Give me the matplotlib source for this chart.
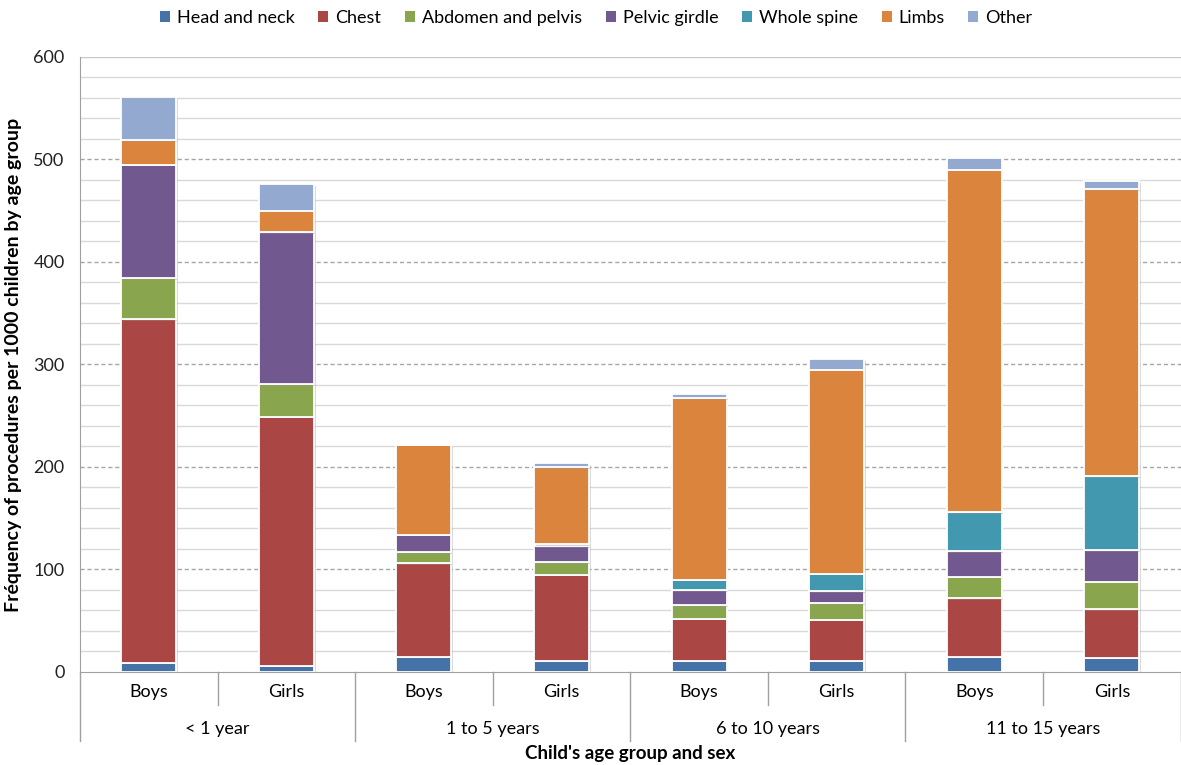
import numpy as np
import matplotlib
matplotlib.use('Agg')
import matplotlib.pyplot as plt
import matplotlib.patheffects as pe
from matplotlib.patches import Patch

plt.rcParams['font.family'] = ['Lato', 'DejaVu Sans']

# procedures per 1000 children, by region and by age group / sex
sexes = ['Boys', 'Girls'] * 4
age_groups = ['< 1 year', '1 to 5 years', '6 to 10 years', '11 to 15 years']
regions = ['Head and neck', 'Chest', 'Abdomen and pelvis', 'Pelvic girdle',
           'Whole spine', 'Limbs', 'Other']
colors = ['#4572A7', '#AA4643', '#89A54E', '#71588F', '#4198AF', '#DB843D', '#93A9CF']

head_neck = [9, 6, 15, 11, 11, 11, 15, 14]
chest = [335, 243, 91, 84, 41, 40, 57, 47]
abdomen_pelvis = [40, 32, 11, 12, 13, 16, 21, 27]
pelvic_girdle = [111, 148, 17, 16, 15, 12, 25, 31]
whole_spine = [0, 0, 0, 2, 10, 17, 38, 72]
limbs = [24, 21, 87, 75, 177, 199, 334, 280]
other = [42, 26, 0, 4, 4, 10, 11, 8]

series = [head_neck, chest, abdomen_pelvis, pelvic_girdle, whole_spine, limbs, other]

fig = plt.figure(figsize=(11.81, 7.65), dpi=100)
ax = fig.add_axes([0.0677, 0.1216, 0.932, 0.804])

x = np.arange(len(sexes))
bottom = np.zeros(len(sexes))
shadow = [pe.SimplePatchShadow(offset=(1.2, -1.2), shadow_rgbFace='#999999', alpha=0.35), pe.Normal()]
for name, vals, col in zip(regions, series, colors):
    vals = np.array(vals, dtype=float)
    bars = ax.bar(x, vals, 0.4, bottom=bottom, color=col, edgecolor='white',
                  linewidth=1.3, zorder=3)
    for b in bars:
        b.set_path_effects(shadow)
    bottom += vals

ax.set_xlim(-0.5, 7.5)
ax.set_ylim(0, 600)
ax.set_yticks(np.arange(0, 601, 100))
ax.set_yticks(np.arange(0, 601, 20), minor=True)
ax.grid(axis='y', which='minor', color='#D9D9D9', linewidth=1.0, zorder=0)
for v in range(100, 600, 100):
    ax.axhline(v, color='#A6A6A6', linestyle=(0, (3, 2)), linewidth=1.0, zorder=1)
ax.tick_params(axis='y', which='both', length=0, labelsize=13, pad=11, colors='#222222')
ax.tick_params(axis='x', which='both', length=0)
ax.set_xticks([])

for s in ['top', 'right']:
    ax.spines[s].set_visible(False)
ax.spines['left'].set_color('#A0A0A0')
ax.spines['bottom'].set_color('#A0A0A0')
ax.axhline(600, color='#C8C8C8', linewidth=1.0, zorder=0)

# two-level category axis below the plot
trans = ax.get_xaxis_transform()
for i, lab in enumerate(sexes):
    ax.text(i, -0.032, lab, transform=trans, ha='center', va='center', fontsize=13)
for k, lab in enumerate(age_groups):
    ax.text(2 * k + 0.5, -0.092, lab, transform=trans, ha='center', va='center', fontsize=13)
for b in [0.5, 2.5, 4.5, 6.5]:
    ax.plot([b, b], [0, -0.054], transform=trans, color='#A0A0A0', lw=1.0, clip_on=False)
for b in [-0.5, 1.5, 3.5, 5.5, 7.5]:
    ax.plot([b, b], [0, -0.112], transform=trans, color='#A0A0A0', lw=1.0, clip_on=False)

ax.text(3.5, -0.133, "Child's age group and sex", transform=trans, ha='center', va='center',
        fontsize=13.5, fontweight='bold')
ax.set_ylabel('Fréquency of procedures per 1000 children by age group', fontsize=14,
              fontweight='bold', labelpad=8)

handles = [Patch(facecolor=c, edgecolor='none') for c in colors]
fig.legend(handles, regions, loc='upper center', bbox_to_anchor=(0.505, 1.008), ncol=7,
           frameon=False, fontsize=13, handlelength=0.55, handleheight=0.55,
           handletextpad=0.4, columnspacing=1.3)

fig.savefig('out.png', dpi=100, facecolor='white')
